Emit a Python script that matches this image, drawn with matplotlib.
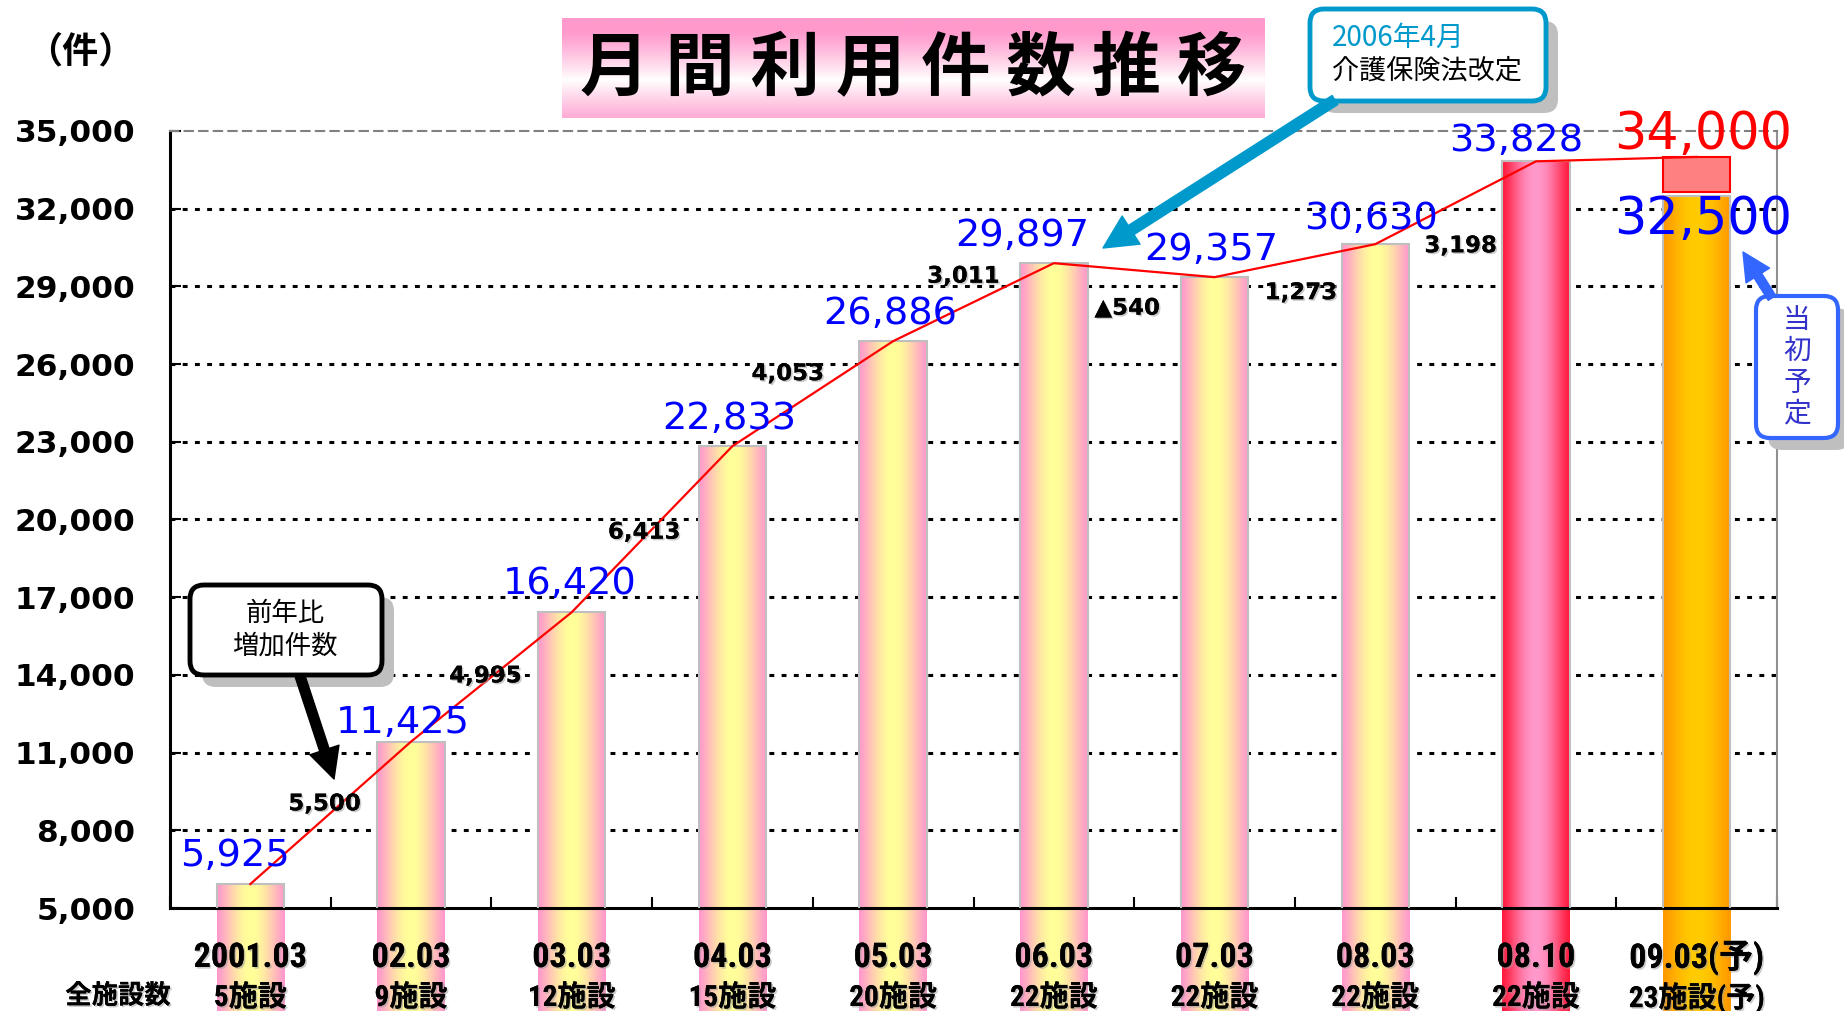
import numpy as np
import matplotlib
matplotlib.use('Agg')
import matplotlib.pyplot as plt
import matplotlib.patheffects as pe
from matplotlib import font_manager
from matplotlib.colors import to_rgb
from matplotlib.patches import FancyBboxPatch

plt.rcParams['font.family'] = ['DejaVu Sans', 'Noto Sans CJK JP']

# データ
periods = ['2001.03', '02.03', '03.03', '04.03', '05.03', '06.03',
           '07.03', '08.03', '08.10', '09.03(予)']
facilities = ['5施設', '9施設', '12施設', '15施設', '20施設', '22施設',
              '22施設', '22施設', '22施設', '23施設(予)']
counts = [5925, 11425, 16420, 22833, 26886, 29897, 29357, 30630, 33828, 32500]
planned = 34000
y_ticks = np.arange(5000, 35001, 3000)

# 線は最後だけ当初予定に向かう
line_vals = counts[:-1] + [planned]
diffs = np.diff(counts[:-1])

# ラベル位置の微調整 (px)
val_off = [(-15, 28), (-8, 19), (-2, 28), (-3, 27), (-3, 27), (-32, 27),
           (-3, 27), (-4, 25), (-20, 20)]
diff_off = [(-6, 9), (-6, 1), (-8, -3), (-25, 20), (-10, 26), (-7, -38),
            (6, -32), (5, -43)]


def has_font(name):
    try:
        font_manager.findfont(name, fallback_to_default=False)
        return True
    except Exception:
        return False


# 細めの数字フォントがあれば使う
narrow = 'DejaVu Sans'
xsize = (18, 17)
for cand in ['Liberation Sans Narrow', 'Roboto Condensed', 'DejaVu Sans Condensed']:
    if has_font(cand):
        narrow = cand
        xsize = (24, 21) if 'Narrow' in cand else (24.5, 21)
        break
xfont = [narrow, 'Noto Sans CJK JP']

W, H = 1844, 1011
fig = plt.figure(figsize=(W / 100, H / 100), dpi=100)
ax = fig.add_axes([170 / W, 1 - 908 / H, (1777 - 170) / W, (908 - 131) / H])

x = np.arange(len(counts))
bw = 0.42

bar_cols = [('#FF99CC', '#FFFF99')] * 8 + [('#FF1A3C', '#FF99CC'), ('#FF9900', '#FFCC00')]


def grad_fill(rect, c_edge, c_mid):
    t = np.linspace(0, 1, 256)
    k = np.sin(np.pi * t) ** 1.3
    img = np.outer(1 - k, to_rgb(c_edge)) + np.outer(k, to_rgb(c_mid))
    im = ax.imshow(img[np.newaxis, :, :], extent=[rect.get_x(), rect.get_x() + rect.get_width(),
                                                   rect.get_y(), rect.get_y() + rect.get_height()],
                   aspect='auto', interpolation='bilinear', zorder=2)
    im.set_clip_path(rect)


bars = ax.bar(x, counts, width=bw, facecolor='none', edgecolor='#BFBFBF', linewidth=1.5, zorder=3)
for r, (ce, cm) in zip(bars, bar_cols):
    grad_fill(r, ce, cm)

# 当初予定の上乗せ部分
ax.bar(x[-1], planned - 32650, bottom=32650, width=bw, color='#FF8080',
       edgecolor='red', linewidth=1.5, zorder=3)

ax.plot(x, line_vals, color='red', lw=1.6, zorder=4)

# 目盛線
for yv in y_ticks[1:-1]:
    ax.axhline(yv, color='black', ls=(0, (1.6, 2.4)), lw=2.2, zorder=1)

ax.set_xlim(-0.5, len(counts) - 0.5)
ax.set_ylim(5000, 35000)
ax.set_yticks(y_ticks)
ax.set_yticklabels([f'{v:,}' for v in y_ticks], fontsize=22.5, fontweight='bold')
ax.set_xticks(np.arange(-0.5, len(counts), 1))
ax.set_xticklabels([])
ax.tick_params(axis='y', direction='in', length=8, width=1.5, pad=25)
ax.tick_params(axis='x', direction='in', length=8, width=1.5)
for s in ['left', 'bottom']:
    ax.spines[s].set_linewidth(2.2)
ax.spines['top'].set_color('#808080')
ax.spines['top'].set_linestyle((0, (4, 3)))
ax.spines['top'].set_linewidth(1.5)
ax.spines['right'].set_color('#909090')
ax.spines['right'].set_linewidth(1.5)

# 値ラベル
for i in range(len(counts) - 1):
    ax.annotate(f'{counts[i]:,}', xy=(i, counts[i]), xytext=val_off[i],
                textcoords='offset pixels', ha='center', va='center',
                fontsize=27.5, color='blue', zorder=6)
ax.annotate(f'{planned:,}', xy=(x[-1], planned), xytext=(6, 22),
            textcoords='offset pixels', ha='center', va='center',
            fontsize=36.5, color='red', zorder=6)
ax.annotate(f'{counts[-1]:,}', xy=(x[-1], counts[-1]), xytext=(6, -24),
            textcoords='offset pixels', ha='center', va='center',
            fontsize=36.5, color='blue', zorder=6)

# 前年比増加件数
shadow = [pe.withSimplePatchShadow(offset=(1.2, -1.2), shadow_rgbFace='0.6', alpha=0.5), pe.Normal()]
for i, d in enumerate(diffs):
    lab = f'{d:,}' if d >= 0 else f'▲{-d:,}'
    ax.annotate(lab, xy=(i + 0.5, (counts[i] + counts[i + 1]) / 2), xytext=diff_off[i],
                textcoords='offset pixels', ha='center', va='center',
                fontsize=16.5, fontweight='bold', color='black', zorder=6,
                path_effects=shadow)

# 横軸ラベル (2段)
for i in range(len(counts)):
    ax.annotate(periods[i], xy=(i, 0), xycoords=('data', 'axes fraction'), xytext=(0, -50),
                textcoords='offset pixels', ha='center', va='center', fontsize=xsize[0],
                fontweight='bold', family=xfont, path_effects=shadow, annotation_clip=False)
    ax.annotate(facilities[i], xy=(i, 0), xycoords=('data', 'axes fraction'), xytext=(0, -90),
                textcoords='offset pixels', ha='center', va='center', fontsize=xsize[1],
                fontweight='bold', family=xfont, path_effects=shadow, annotation_clip=False)

# 重ね書き用 (ピクセル座標)
ov = fig.add_axes([0, 0, 1, 1], zorder=10)
ov.set_xlim(0, W)
ov.set_ylim(H, 0)
ov.axis('off')

ov.text(118, 996, '全施設数', ha='center', va='center', fontsize=19, fontweight='bold',
        family='Noto Sans CJK JP', path_effects=shadow)
ov.text(80, 52, '（件）', ha='center', va='center', fontsize=26, fontweight='bold',
        family='Noto Sans CJK JP')

# タイトル
tt = np.linspace(0, 1, 200)
kk = np.clip(1 - np.abs(tt - 0.62) / 0.5, 0, 1) ** 1.2
timg = np.outer(1 - kk, to_rgb('#FF99CC')) + np.outer(kk, to_rgb('#FFFFFF'))
ov.imshow(timg[:, np.newaxis, :], extent=[562, 1264, 118, 18], aspect='auto', interpolation='bilinear')
ov.text(913, 70, '月 間 利 用 件 数 推 移', ha='center', va='center', fontsize=50,
        family='Noto Sans CJK JP', fontweight='bold')


def callout(x0, y0, w, h, ec, lw):
    ov.add_patch(FancyBboxPatch((x0 + 12, y0 + 12), w, h, boxstyle='round,pad=0,rounding_size=14',
                                fc='#BFBFBF', ec='none', zorder=1))
    ov.add_patch(FancyBboxPatch((x0, y0), w, h, boxstyle='round,pad=0,rounding_size=14',
                                fc='white', ec=ec, lw=lw, zorder=2))


def arrow(tail, tip, col, ms):
    ov.annotate('', xy=tip, xytext=tail,
                arrowprops=dict(arrowstyle='simple,head_length=1.0,head_width=1.0,tail_width=0.32',
                                color=col, mutation_scale=ms, shrinkA=0, shrinkB=0), zorder=3)


# 2006年4月 介護保険法改定
arrow((1335, 100), (1103, 248), '#0099CC', 24)
callout(1310, 9, 236, 92, '#0099CC', 3.5)
ov.text(1332, 38, '2006年4月', ha='left', va='center', fontsize=20, color='#0099CC',
        family='Noto Sans CJK JP', zorder=4)
ov.text(1332, 71, '介護保険法改定', ha='left', va='center', fontsize=19.5, color='black',
        family='Noto Sans CJK JP', zorder=4)

# 前年比 増加件数
arrow((300, 676), (334, 779), 'black', 22)
callout(190, 585, 192, 90, 'black', 3.5)
ov.text(285, 630, '前年比\n増加件数', ha='center', va='center', fontsize=19, color='black',
        family='Noto Sans CJK JP', linespacing=1.25, zorder=4)

# 当初予定
arrow((1772, 298), (1743, 252), '#3366FF', 20)
callout(1756, 296, 82, 142, '#3366FF', 3)
ov.text(1797, 367, '当\n初\n予\n定', ha='center', va='center', fontsize=20, color='#3333CC',
        family='Noto Sans CJK JP', linespacing=1.05, zorder=4)

ov.set_xlim(0, W)
ov.set_ylim(H, 0)

fig.savefig('out.png', dpi=100)
